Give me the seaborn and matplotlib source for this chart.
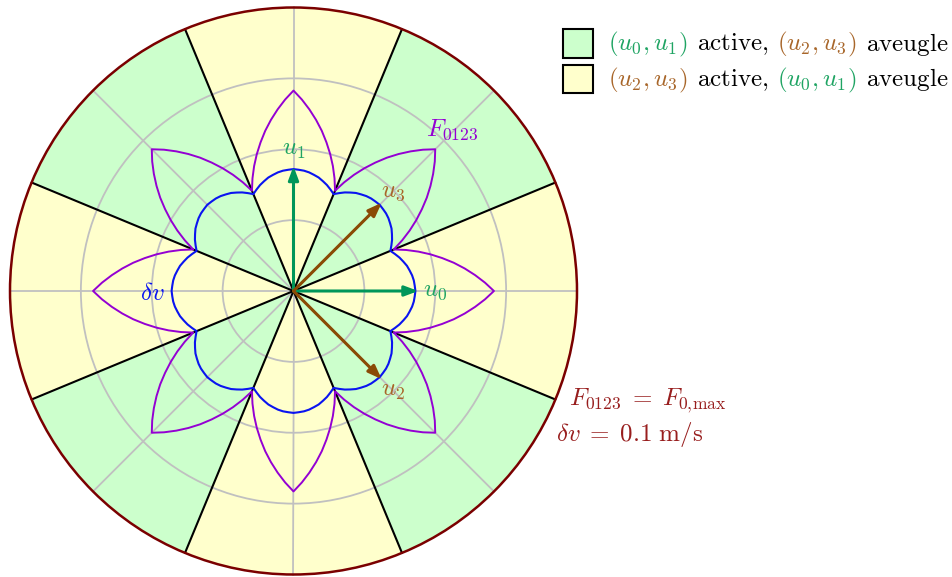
import numpy as np
import pandas as pd
import matplotlib
matplotlib.use("Agg")
import matplotlib.pyplot as plt
from matplotlib.patches import Wedge, Circle, Rectangle, FancyArrowPatch
import seaborn as sns

# ---------------------------------------------------------------------------
# Data (radii are fractions of the outer circle: F0,max  /  0.1 m/s)
# ---------------------------------------------------------------------------
# angular offset from the nearest 45-degree axis (deg)
psi_deg = [0.0, 2.5, 5.0, 7.5, 10.0, 12.5, 15.0, 17.5, 20.0, 22.5]
# maximum force F0123 along that offset
force_r = [0.707, 0.676, 0.643, 0.609, 0.574, 0.537, 0.500, 0.462, 0.423, 0.383]
# velocity increment dv along that offset
dv_r = [0.430, 0.428, 0.426, 0.422, 0.416, 0.410, 0.401, 0.392, 0.381, 0.370]

# sectors: start angle (deg) and which thruster pair is active
sector_start = [-22.5, 22.5, 67.5, 112.5, 157.5, 202.5, 247.5, 292.5]
sector_pair = ["u23", "u01", "u23", "u01", "u23", "u01", "u23", "u01"]

grid_radii = [0.25, 0.50, 0.75]
spoke_angles = [0, 45, 90, 135, 180, 225, 270, 315]

thruster_names = ["u_0", "u_1", "u_2", "u_3"]
thruster_angle = [0.0, 90.0, -45.0, 45.0]
thruster_len = [0.44, 0.44, 0.44, 0.44]
thruster_pair = ["u01", "u01", "u23", "u23"]
label_radius = [0.50, 0.50, 0.495, 0.495]

# ---------------------------------------------------------------------------
# Styling
# ---------------------------------------------------------------------------
sns.set_theme(style="white")
plt.rcParams["mathtext.fontset"] = "cm"
plt.rcParams["font.family"] = ["DejaVu Serif"]

FILL = {"u01": "#ccffcc", "u23": "#ffffcc"}
ARROW_C = {"u01": "#00965a", "u23": "#8a4a05"}
TEXT_C = {"u01": "#1fa463", "u23": "#a8662a"}
GRID_C = "#c0c0c0"
OUTER_C = "#7a0000"
NOTE_C = "#981e1e"
FORCE_C = "#9400d3"
DV_C = "#0a14f0"
FS = 18

W, H, DPI = 952, 577, 100
R_PX = 283.5            # outer circle radius in pixels
CX, CY = 293.5, 291.0   # pole position in pixels (from top-left)


def px(x, y):
    """Pixel position (top-left origin) to data coordinates."""
    return (x - CX) / R_PX, (CY - y) / R_PX


fig = plt.figure(figsize=(W / DPI, H / DPI), dpi=DPI)
ax = fig.add_axes([0, 0, 1, 1])
ax.set_xlim(-CX / R_PX, (W - CX) / R_PX)
ax.set_ylim(-(H - CY) / R_PX, CY / R_PX)
ax.axis("off")

# coloured sectors
for start, pair in zip(sector_start, sector_pair):
    ax.add_patch(Wedge((0, 0), 1.0, start, start + 45, facecolor=FILL[pair],
                       edgecolor="none", zorder=0))

# polar grid
for r in grid_radii:
    ax.add_patch(Circle((0, 0), r, fill=False, edgecolor=GRID_C, lw=1.3, zorder=1))
for a in spoke_angles:
    t = np.deg2rad(a)
    ax.plot([0, np.cos(t)], [0, np.sin(t)], color=GRID_C, lw=1.3, zorder=1)

# sector boundaries
for start in sector_start:
    t = np.deg2rad(start)
    ax.plot([0, np.cos(t)], [0, np.sin(t)], color="black", lw=1.5, zorder=2)

# outer circle
ax.add_patch(Circle((0, 0), 1.0, fill=False, edgecolor=OUTER_C, lw=1.8, zorder=3))


def polar_curve(profile):
    """Repeat a half-sector profile over the eight 45-degree sectors."""
    psi = np.array(psi_deg)
    rad = np.array(profile)
    offs = np.concatenate([-psi[::-1], psi[1:]])
    rr = np.concatenate([rad[::-1], rad[1:]])
    ang, rad_all = [], []
    for k in range(8):
        ang.append(45.0 * k + offs)
        rad_all.append(rr)
    ang = np.deg2rad(np.concatenate(ang))
    rad_all = np.concatenate(rad_all)
    return pd.DataFrame({"x": rad_all * np.cos(ang), "y": rad_all * np.sin(ang)})


force_df = polar_curve(force_r)
dv_df = polar_curve(dv_r)
sns.lineplot(data=force_df, x="x", y="y", sort=False, estimator=None,
             color=FORCE_C, lw=1.4, ax=ax, zorder=4)
sns.lineplot(data=dv_df, x="x", y="y", sort=False, estimator=None,
             color=DV_C, lw=1.5, ax=ax, zorder=4)

# thrust directions
for name, ang, ln, pair, lr in zip(thruster_names, thruster_angle, thruster_len,
                                   thruster_pair, label_radius):
    t = np.deg2rad(ang)
    ax.add_patch(FancyArrowPatch((0, 0), (ln * np.cos(t), ln * np.sin(t)),
                                 arrowstyle="-|>,head_length=0.4,head_width=0.15",
                                 mutation_scale=20, lw=2.2, color=ARROW_C[pair],
                                 shrinkA=0, shrinkB=0, zorder=5))
    ax.text(lr * np.cos(t), lr * np.sin(t), f"${name}$", color=TEXT_C[pair],
            fontsize=FS, ha="center", va="center", zorder=6)

# curve labels
ax.text(*px(452, 130), r"$F_{0123}$", color=FORCE_C, fontsize=FS,
        ha="center", va="center", zorder=6)
ax.text(*px(152, 293), r"$\delta v$", color=DV_C, fontsize=FS,
        ha="center", va="center", zorder=6)

# scale notes on the outer circle
ax.text(*px(569, 405), r"$F_{0123}\;=\;F_{0,\!\max}$", color=NOTE_C, fontsize=FS,
        ha="left", va="baseline")
ax.text(*px(556, 441), r"$\delta v\;=\;0.1\ \mathrm{m/s}$", color=NOTE_C, fontsize=FS,
        ha="left", va="baseline")

# legend with coloured pieces
renderer = fig.canvas.get_renderer()
legend_rows = [
    ("u01", [(r"$(u_0, u_1)$", TEXT_C["u01"]), (r"$\mathrm{active,}$", "black"),
             (r"$(u_2, u_3)$", TEXT_C["u23"]), (r"$\mathrm{aveugle}$", "black")]),
    ("u23", [(r"$(u_2, u_3)$", TEXT_C["u23"]), (r"$\mathrm{active,}$", "black"),
             (r"$(u_0, u_1)$", TEXT_C["u01"]), (r"$\mathrm{aveugle}$", "black")]),
]
row_top = [29, 64.5]
row_base = [50.5, 86]
for (pair, pieces), top, base in zip(legend_rows, row_top, row_base):
    x0, y0 = px(563, top + 28.5)
    ax.add_patch(Rectangle((x0, y0), 29.5 / R_PX, 28.5 / R_PX, facecolor=FILL[pair],
                           edgecolor="black", lw=1.5, clip_on=False, zorder=5))
    xpix = 608.0
    for s, c in pieces:
        t = ax.text(*px(xpix, base), s, color=c, fontsize=FS, ha="left", va="baseline")
        bb = t.get_window_extent(renderer=renderer)
        xpix += bb.width + 9.0

fig.savefig("out.png", dpi=DPI)
